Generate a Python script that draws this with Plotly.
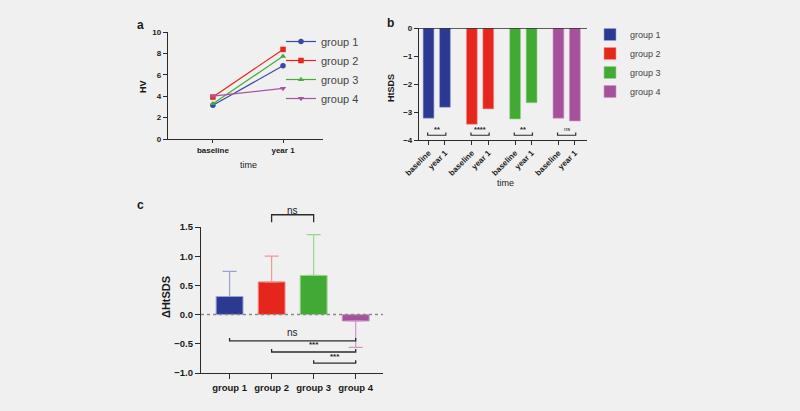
import plotly.graph_objects as go

W, H = 800, 411
def px_x(x): return x / W
def px_y(y): return 1 - y / H

# ---------------- data ----------------
time_labels = ["baseline", "year 1"]
group_names = ["group 1", "group 2", "group 3", "group 4"]

hv_group1 = [3.15, 6.85]
hv_group2 = [3.92, 8.37]
hv_group3 = [3.30, 7.73]
hv_group4 = [4.00, 4.73]

htsds_baseline = [-3.22, -3.44, -3.25, -3.22]
htsds_year1 = [-2.83, -2.89, -2.67, -3.32]
sig_within = ["**", "****", "**", "ns"]

delta_htsds = [0.31, 0.56, 0.67, -0.11]
delta_sd = [0.43, 0.44, 0.70, 0.45]

sig_between_pairs = [(1, 2), (0, 3), (1, 3), (2, 3)]
sig_between_labels = ["ns", "ns", "***", "***"]

# ---------------- style ----------------
FONT = "Arial, Liberation Sans, Helvetica, sans-serif"
BG = "#f0f0f0"
AX = "#2b2b2b"
line_colors = ["#3b47a6", "#e8261c", "#45ad38", "#a656a0"]
bar_colors = ["#2b3990", "#e5261c", "#43a935", "#a5529b"]
light_colors = ["#9aa3d6", "#f19892", "#9bd38f", "#cf97c9"]
symbols = ["circle", "square", "triangle-up", "triangle-down"]
hv_series = [hv_group1, hv_group2, hv_group3, hv_group4]

fig = go.Figure()

# ---------------- panel a ----------------
for i, g in enumerate(group_names):
    fig.add_trace(go.Scatter(
        x=time_labels, y=hv_series[i], mode="lines+markers", name=g,
        line=dict(color=line_colors[i], width=1.2),
        marker=dict(symbol=symbols[i], size=5.5, color=line_colors[i]),
        xaxis="x", yaxis="y", legend="legend",
    ))

# ---------------- panel b ----------------
offsets = [-0.19, 0.19]
tickpos_b, ticktext_b = [], []
for i, g in enumerate(group_names):
    xs = [i + o for o in offsets]
    tickpos_b += xs
    ticktext_b += time_labels
    fig.add_trace(go.Bar(
        x=xs, y=[htsds_baseline[i], htsds_year1[i]], name=g, width=0.25,
        marker=dict(color=bar_colors[i], line=dict(color=light_colors[i], width=0.6)),
        xaxis="x2", yaxis="y2", legend="legend2",
    ))

# ---------------- panel c ----------------
for i, g in enumerate(group_names):
    v, sd = delta_htsds[i], delta_sd[i]
    fig.add_trace(go.Bar(
        x=[g], y=[v], width=0.64, showlegend=False,
        marker=dict(color=bar_colors[i], line=dict(color=light_colors[i], width=1)),
        error_y=dict(type="data", symmetric=False,
                     array=[sd if v >= 0 else 0], arrayminus=[0 if v >= 0 else sd],
                     color=light_colors[i], thickness=1.2, width=7),
        xaxis="x3", yaxis="y3",
    ))

shapes, annotations = [], []

# panel b zero line and brackets
shapes.append(dict(type="line", xref="x2 domain", yref="y2", x0=0, x1=1, y0=0, y1=0,
                   line=dict(color=AX, width=1.3)))
for i, s in enumerate(sig_within):
    x0, x1 = i + offsets[0] - 0.02, i + offsets[1] + 0.02
    shapes.append(dict(type="path", xref="x2", yref="y2",
                       path=f"M{x0},-3.73 L{x0},-3.83 L{x1},-3.83 L{x1},-3.73",
                       line=dict(color=AX, width=1.2)))
    annotations.append(dict(xref="x2", yref="y2", x=i, y=-3.62, text=s, showarrow=False,
                            font=dict(family=FONT, size=7.5 if s != "ns" else 6, color="#222",
                                      weight="bold" if s != "ns" else "normal")))

# panel c dotted zero line and brackets
shapes.append(dict(type="line", xref="x3 domain", yref="y3", x0=0, x1=1, y0=0, y1=0,
                   line=dict(color="#8a8a8a", width=1.5, dash="dot")))

def c_dom(v):
    return (v + 1.0) / 2.5

a0, a1 = sig_between_pairs[0]
shapes.append(dict(type="path", xref="x3", yref="y3 domain",
                   path=f"M{a0},{c_dom(1.58)} L{a0},{c_dom(1.71)} L{a1},{c_dom(1.71)} L{a1},{c_dom(1.58)}",
                   line=dict(color=AX, width=1.3)))
annotations.append(dict(xref="x3", yref="y3 domain", x=(a0 + a1) / 2, y=c_dom(1.91),
                        text=sig_between_labels[0], showarrow=False,
                        font=dict(family=FONT, size=10, color="#222")))
levels = [-0.45, -0.64, -0.83]
text_levels = [-0.31, -0.52, -0.72]
for k, ((a0, a1), lab) in enumerate(zip(sig_between_pairs[1:], sig_between_labels[1:])):
    y = levels[k]
    shapes.append(dict(type="path", xref="x3", yref="y3",
                       path=f"M{a0},{y + 0.05} L{a0},{y} L{a1},{y} L{a1},{y + 0.05}",
                       line=dict(color=AX, width=1.3)))
    annotations.append(dict(xref="x3", yref="y3", x=(a0 + a1) / 2, y=text_levels[k],
                            text=lab, showarrow=False,
                            font=dict(family=FONT, size=10 if lab == "ns" else 8, color="#222",
                                      weight="normal" if lab == "ns" else "bold")))

def label(x, y, text, size, bold=True, angle=0):
    annotations.append(dict(xref="paper", yref="paper", x=px_x(x), y=px_y(y), text=text,
                            showarrow=False, textangle=angle, xanchor="center", yanchor="middle",
                            font=dict(family=FONT, size=size, color="#1a1a1a",
                                      weight="bold" if bold else "normal")))

label(140, 25, "a", 12)
label(390, 23, "b", 12)
label(140, 205, "c", 12)
label(143, 87, "HV", 9, angle=-90)
label(248, 165, "time", 9, bold=False)
label(391, 88, "HtSDS", 9, angle=-90)
label(505, 183, "time", 9, bold=False)
label(166, 297, "ΔHtSDS", 11, angle=-90)

tickfont_small = dict(family=FONT, size=8, color="#1a1a1a", weight="bold")
tickfont_c = dict(family=FONT, size=9.5, color="#1a1a1a", weight="bold")
axis_common = dict(showline=True, linecolor=AX, linewidth=1.3, ticks="outside",
                   tickcolor=AX, tickwidth=1.2, showgrid=False, zeroline=False,
                   automargin=False)

fig.update_layout(
    template="none",
    width=W, height=H, margin=dict(l=0, r=0, t=0, b=0, autoexpand=False),
    paper_bgcolor=BG, plot_bgcolor=BG, barmode="overlay",
    font=dict(family=FONT),
    xaxis=dict(domain=[px_x(168), px_x(323)], anchor="y", type="category",
               range=[-0.64, 1.57], ticklen=3, tickfont=tickfont_small, **axis_common),
    yaxis=dict(domain=[px_y(139), px_y(32)], anchor="x", range=[0, 10], dtick=2,
               ticklen=4, tickfont=tickfont_small, **axis_common),
    xaxis2=dict(domain=[px_x(419), px_x(587)], anchor="y2", range=[-0.41, 3.47],
                tickvals=tickpos_b, ticktext=ticktext_b, tickangle=-45, ticklen=4,
                tickfont=tickfont_small, **axis_common),
    yaxis2=dict(domain=[px_y(140), px_y(28)], anchor="x2", range=[-4, 0], dtick=1,
                ticklen=4, tickfont=tickfont_small, **axis_common),
    xaxis3=dict(domain=[px_x(201), px_x(383)], anchor="y3", type="category",
                categoryorder="array", categoryarray=group_names,
                range=[-0.68, 3.65], ticklen=5, tickfont=tickfont_c, **axis_common),
    yaxis3=dict(domain=[px_y(373), px_y(227)], anchor="x3", range=[-1, 1.5], dtick=0.5,
                tickformat=".1f", ticklen=5, tickfont=tickfont_c, **axis_common),
    legend=dict(x=px_x(281), y=px_y(27), xanchor="left", yanchor="top",
                bgcolor="rgba(0,0,0,0)", tracegroupgap=0,
                font=dict(family=FONT, size=11, color="#444")),
    legend2=dict(x=px_x(590), y=px_y(20), xanchor="left", yanchor="top",
                 bgcolor="rgba(0,0,0,0)", tracegroupgap=0,
                 font=dict(family=FONT, size=9, color="#444")),
    shapes=shapes, annotations=annotations,
)

fig.write_html("out.html", config={"displayModeBar": False},
               post_script="document.body.style.margin='0px';")
